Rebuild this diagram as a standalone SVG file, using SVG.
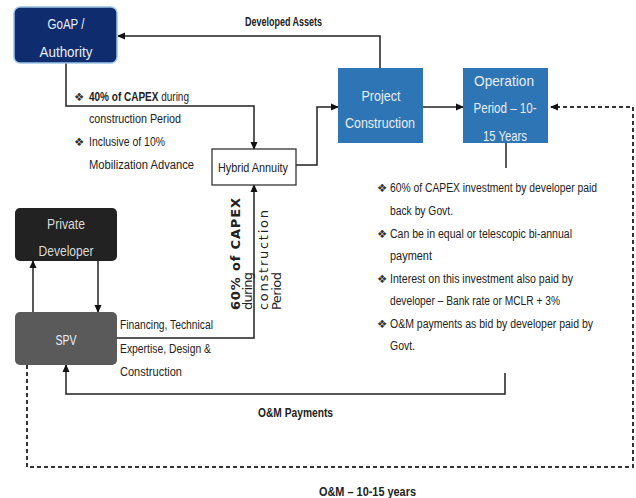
<svg xmlns="http://www.w3.org/2000/svg" width="636" height="498" viewBox="0 0 636 498">
<defs>
<style>
.t{font-family:"Liberation Sans",Arial,sans-serif;fill:#222;font-size:12px}
.w{font-family:"Liberation Sans",Arial,sans-serif;fill:#e8eef7;text-anchor:middle;font-size:14.5px}
.b{font-weight:bold}
.dj{font-family:"DejaVu Sans",sans-serif;fill:#222;font-size:13px}
.d{font-family:"DejaVu Sans",sans-serif;fill:#333;font-size:11.5px}
.ln{fill:none;stroke:#222;stroke-width:1.5}
.dash{fill:none;stroke:#333;stroke-width:2;stroke-dasharray:4 3}
</style>
<marker id="arr" markerWidth="8" markerHeight="8" refX="7" refY="4" orient="auto" markerUnits="userSpaceOnUse">
<path d="M0,0.5 L8,4 L0,7.5 z" fill="#111"/>
</marker>
</defs>
<rect width="636" height="498" fill="#fff"/>

<g id="connectors">
<path class="ln" d="M380,68 V36 H118" marker-end="url(#arr)"/>
<path class="ln" d="M66,63 V106 H254 V149" marker-end="url(#arr)"/>
<path class="ln" d="M296,165 H317 V107 H338" marker-end="url(#arr)"/>
<path class="ln" d="M423,107 H463" marker-end="url(#arr)"/>
<path class="ln" d="M506,143 V168"/>
<path class="ln" d="M505,373 V394 H66 V365" marker-end="url(#arr)"/>
<path class="ln" d="M117,338 H254 V185" marker-end="url(#arr)"/>
<path class="ln" d="M33,312 V261" marker-end="url(#arr)"/>
<path class="ln" d="M98,261 V312" marker-end="url(#arr)"/>
<path class="dash" d="M27,365 V467 H633 V107 H551" marker-end="url(#arr)"/>
</g>

<g id="goap">
<rect x="14" y="7" width="103" height="56" rx="6" fill="#0f2d6e" stroke="#9dc3e6" stroke-width="1.5"/>
<text class="w" x="66" y="29" textLength="37" lengthAdjust="spacingAndGlyphs">GoAP /</text>
<text class="w" x="66" y="57" textLength="53" lengthAdjust="spacingAndGlyphs">Authority</text>
</g>

<g id="project">
<rect x="338" y="68" width="85" height="75" fill="#2e75b6"/>
<text class="w" x="381" y="101" textLength="39" lengthAdjust="spacingAndGlyphs">Project</text>
<text class="w" x="380" y="128" textLength="70" lengthAdjust="spacingAndGlyphs">Construction</text>
</g>

<g id="operation">
<rect x="463" y="68" width="85" height="75" fill="#2e75b6"/>
<text class="w" x="504" y="86" textLength="60" lengthAdjust="spacingAndGlyphs">Operation</text>
<text class="w" x="505" y="113" textLength="63" lengthAdjust="spacingAndGlyphs">Period – 10-</text>
<text class="w" x="505" y="141" textLength="44" lengthAdjust="spacingAndGlyphs">15 Years</text>
</g>

<g id="hybrid">
<rect x="212" y="149" width="84" height="36" fill="#fff" stroke="#333" stroke-width="1.3"/>
<text class="t" x="253" y="172" font-size="12.5" text-anchor="middle" textLength="70" lengthAdjust="spacingAndGlyphs">Hybrid Annuity</text>
</g>

<g id="private">
<rect x="15" y="208" width="102" height="53" rx="5" fill="#222"/>
<text class="w" x="66" y="229" style="fill:#d9d9d9" textLength="38" lengthAdjust="spacingAndGlyphs">Private</text>
<text class="w" x="66" y="256" style="fill:#d9d9d9" textLength="55" lengthAdjust="spacingAndGlyphs">Developer</text>
</g>

<g id="spv">
<rect x="15" y="312" width="102" height="53" rx="5" fill="#5a5a5a"/>
<text class="w" x="66" y="345" textLength="21" lengthAdjust="spacingAndGlyphs">SPV</text>
</g>

<g id="labels">
<text class="t b" x="245" y="26" textLength="77" lengthAdjust="spacingAndGlyphs">Developed Assets</text>

<text class="d" x="74" y="101">❖</text>
<text class="t" x="89" y="101" textLength="100" lengthAdjust="spacingAndGlyphs"><tspan class="b">40% of CAPEX</tspan> during</text>
<text class="t" x="89" y="123" textLength="92" lengthAdjust="spacingAndGlyphs">construction Period</text>
<text class="d" x="74" y="146">❖</text>
<text class="t" x="89" y="146" textLength="76" lengthAdjust="spacingAndGlyphs">Inclusive of 10%</text>
<text class="t" x="89" y="169" textLength="105" lengthAdjust="spacingAndGlyphs">Mobilization Advance</text>

<text class="dj b" transform="translate(240,310) rotate(-90)" textLength="112" lengthAdjust="spacing">60% of CAPEX</text>
<text class="dj" transform="translate(252,310) rotate(-90)" textLength="38" lengthAdjust="spacing">during</text>
<text class="dj" transform="translate(268,310) rotate(-90)" textLength="100" lengthAdjust="spacing">construction</text>
<text class="dj" transform="translate(281,310) rotate(-90)" textLength="38" lengthAdjust="spacing">Period</text>

<text class="t" x="120" y="329" textLength="93" lengthAdjust="spacingAndGlyphs">Financing, Technical</text>
<text class="t" x="120" y="353" textLength="91" lengthAdjust="spacingAndGlyphs">Expertise, Design &amp;</text>
<text class="t" x="120" y="376" textLength="62" lengthAdjust="spacingAndGlyphs">Construction</text>

<text class="d" x="377" y="192">❖</text>
<text class="t" x="390" y="192" font-size="11.5" textLength="207" lengthAdjust="spacingAndGlyphs">60% of CAPEX investment by developer paid</text>
<text class="t" x="390" y="215" font-size="11.5" textLength="63" lengthAdjust="spacingAndGlyphs">back by Govt.</text>
<text class="d" x="377" y="238">❖</text>
<text class="t" x="390" y="238" font-size="11.5" textLength="182" lengthAdjust="spacingAndGlyphs">Can be in equal or telescopic bi-annual</text>
<text class="t" x="390" y="260" font-size="11.5" textLength="42" lengthAdjust="spacingAndGlyphs">payment</text>
<text class="d" x="377" y="283">❖</text>
<text class="t" x="390" y="283" font-size="11.5" textLength="183" lengthAdjust="spacingAndGlyphs">Interest on this investment also paid by</text>
<text class="t" x="390" y="305" font-size="11.5" textLength="170" lengthAdjust="spacingAndGlyphs">developer – Bank rate or MCLR + 3%</text>
<text class="d" x="377" y="328">❖</text>
<text class="t" x="390" y="328" font-size="11.5" textLength="203" lengthAdjust="spacingAndGlyphs">O&amp;M payments as bid by developer paid by</text>
<text class="t" x="390" y="350" font-size="11.5" textLength="25" lengthAdjust="spacingAndGlyphs">Govt.</text>

<text class="t b" x="258" y="417" textLength="75" lengthAdjust="spacingAndGlyphs">O&amp;M Payments</text>
<text class="t b" x="319" y="496" font-size="12.5" textLength="97" lengthAdjust="spacingAndGlyphs">O&amp;M – 10-15 years</text>
</g>
</svg>
